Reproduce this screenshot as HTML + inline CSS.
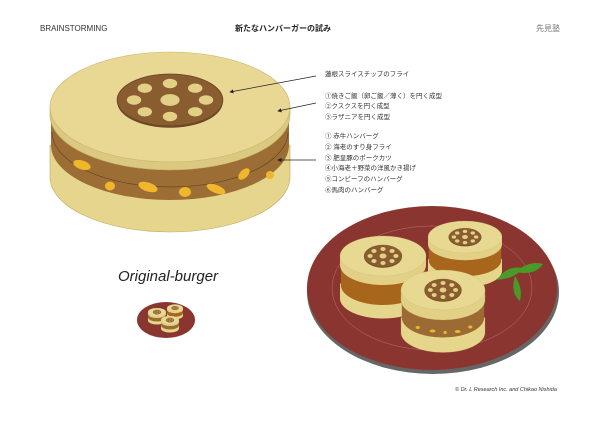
<!DOCTYPE html>
<html><head><meta charset="utf-8"><style>
body{margin:0;background:#fff;}
svg{display:block}
text{font-family:"Liberation Sans","Noto Sans CJK JP",sans-serif;}
</style></head><body>
<svg width="600" height="424" viewBox="0 0 600 424" xmlns="http://www.w3.org/2000/svg">
<defs>
<marker id="ar" markerWidth="6" markerHeight="6" refX="5" refY="3" orient="auto"><path d="M0,0 L6,3 L0,6 Z" fill="#222"/></marker>
<g id="lotus">
 <ellipse cx="0" cy="1.5" rx="44" ry="22" fill="#6d4a25"/>
 <ellipse cx="0" cy="0" rx="44" ry="22" fill="#8a5d30" stroke="#6a4826" stroke-width="0.8"/>
 <ellipse cx="0" cy="0" rx="8" ry="5" fill="#e3cf85"/>
 <ellipse cx="-30" cy="0" rx="6" ry="4" fill="#e3cf85"/>
 <ellipse cx="30" cy="0" rx="6" ry="4" fill="#e3cf85"/>
 <ellipse cx="0" cy="-14" rx="6" ry="4" fill="#e3cf85"/>
 <ellipse cx="0" cy="14" rx="6" ry="4" fill="#e3cf85"/>
 <ellipse cx="-21" cy="-10" rx="6" ry="4" fill="#e3cf85"/>
 <ellipse cx="21" cy="-10" rx="6" ry="4" fill="#e3cf85"/>
 <ellipse cx="-21" cy="10" rx="6" ry="4" fill="#e3cf85"/>
 <ellipse cx="21" cy="10" rx="6" ry="4" fill="#e3cf85"/>
</g>
<g id="burger">
 <path d="M-100,55 V85 A100 40 0 0 0 100 85 V55 Z" fill="#e6d68c" stroke="#bfa960" stroke-width="0.6"/>
 <path d="M-98,20 V55 A98 40 0 0 0 98 55 V20 Z" fill="#9b6b33"/>
 <path d="M-100,0 V20 A100 40 0 0 0 100 20 V0 Z" fill="#e2d086" stroke="#bfa960" stroke-width="0.6"/>
 <ellipse cx="0" cy="0" rx="100" ry="40" fill="#e8d992" stroke="#c9b36a" stroke-width="0.6"/>
 <use href="#lotus"/>
</g>
<g id="burger2">
 <path d="M-100,55 V85 A100 40 0 0 0 100 85 V55 Z" fill="#e6d68c"/>
 <path d="M-98,18 V58 A98 40 0 0 0 98 58 V18 Z" fill="#a8661d"/>
 <path d="M-100,0 V18 A100 40 0 0 0 100 18 V0 Z" fill="#e2d086"/>
 <ellipse cx="0" cy="0" rx="100" ry="40" fill="#e8d992" stroke="#c9b36a" stroke-width="0.6"/>
 <use href="#lotus"/>
</g>
</defs>

<text x="40" y="31" font-size="8" fill="#333">BRAINSTORMING</text>
<text x="235" y="31" font-size="8" font-weight="bold" fill="#222" font-family="'Liberation Serif','Noto Serif CJK SC',serif">新たなハンバーガーの試み</text>
<text x="536" y="31" font-size="8" fill="#777" font-family="'Liberation Serif','Noto Serif CJK SC',serif">先見塾</text>

<!-- big burger -->
<path d="M50,145 V177 A120 55 0 0 0 290 177 V145 Z" fill="#e6d58c" stroke="#c2ab62" stroke-width="0.6"/>
<path d="M51,115 V145 A119 55 0 0 0 289 145 V115 Z" fill="#9c6d35"/>
<path d="M52,132 A118 55 0 0 0 288 132" fill="none" stroke="#5e3f1e" stroke-width="0.6"/>
<g fill="#f0b72c">
 <ellipse cx="82" cy="165" rx="9" ry="4.5" transform="rotate(18 82 165)"/>
 <ellipse cx="110" cy="186" rx="5" ry="4.5"/>
 <ellipse cx="148" cy="187" rx="10" ry="4.5" transform="rotate(18 148 187)"/>
 <ellipse cx="185" cy="192" rx="6" ry="5"/>
 <ellipse cx="216" cy="189" rx="10" ry="4" transform="rotate(22 216 189)"/>
 <ellipse cx="244" cy="174" rx="7" ry="4" transform="rotate(-45 244 174)"/>
 <ellipse cx="270" cy="175" rx="4" ry="4"/>
</g>
<path d="M50,107 V115 A120 55 0 0 0 290 115 V107 Z" fill="#dcc981" stroke="#c2ab62" stroke-width="0.6"/>
<ellipse cx="170" cy="107" rx="120" ry="55" fill="#e8d894" stroke="#c9b36a" stroke-width="0.6"/>
<g transform="translate(170,100) scale(1.2,1.18)"><use href="#lotus"/></g>

<!-- arrows -->
<g stroke="#222" stroke-width="0.7" fill="none">
 <line x1="316" y1="76" x2="230" y2="92" marker-end="url(#ar)"/>
 <line x1="316" y1="103" x2="278" y2="111" marker-end="url(#ar)"/>
 <line x1="316" y1="160" x2="278" y2="160" marker-end="url(#ar)"/>
</g>
<g font-size="6.5" fill="#333">
 <text x="325" y="76">蓮根スライスチップのフライ</text>
 <text x="325" y="98">①焼きご飯（卵ご飯／薄く）を円く成型</text>
 <text x="325" y="108">②クスクスを円く成型</text>
 <text x="325" y="119">③ラザニアを円く成型</text>
 <text x="325" y="138">① 赤牛ハンバーグ</text>
 <text x="325" y="149">② 海老のすり身フライ</text>
 <text x="325" y="160">③ 肥皇豚のポークカツ</text>
 <text x="325" y="170">④小海老＋野菜の洋風かき揚げ</text>
 <text x="325" y="181">⑤コンビーフのハンバーグ</text>
 <text x="325" y="192">⑥馬肉のハンバーグ</text>
</g>

<!-- plate -->
<ellipse cx="433" cy="292" rx="126" ry="82" fill="#666"/>
<ellipse cx="432" cy="288" rx="125" ry="82" fill="#8a3530"/>
<ellipse cx="432" cy="288" rx="100" ry="62" fill="none" stroke="#b8736a" stroke-width="0.5"/>
<g transform="translate(465,237) scale(0.37,0.4)"><use href="#burger2"/></g>
<g transform="translate(383,256) scale(0.43,0.5)"><use href="#burger2"/></g>
<g transform="translate(443,290) scale(0.42,0.5)">
 <use href="#burger"/>
 <ellipse cx="-60" cy="75" rx="5" ry="3" fill="#f0b72c"/>
 <ellipse cx="-25" cy="82" rx="7" ry="3" fill="#f0b72c"/>
 <ellipse cx="5" cy="85" rx="4" ry="3" fill="#f0b72c"/>
 <ellipse cx="35" cy="83" rx="7" ry="3" fill="#f0b72c"/>
 <ellipse cx="65" cy="74" rx="5" ry="3" fill="#f0b72c"/>
</g>
<g fill="#4a9a2a">
 <path d="M497,280 q10,-15 25,-12 q-5,10 -25,12z"/>
 <path d="M515,272 q15,-12 28,-8 q-8,12 -28,8z"/>
 <path d="M515,276 q8,12 5,25 q-10,-8 -5,-25z"/>
</g>
<text x="455" y="391" font-size="5.5" fill="#333" font-family="'Liberation Serif',serif" font-style="italic">© Dr. L Research Inc. and Chikao Nishida</text>

<!-- logo -->
<text x="118" y="281" font-size="15" fill="#222" font-family="'Liberation Serif',serif" font-style="italic">Original-burger</text>
<ellipse cx="166" cy="320" rx="29" ry="18" fill="#8a3530"/>
<g transform="translate(157,312) scale(0.09,0.1)"><use href="#burger"/></g>
<g transform="translate(175,308) scale(0.08,0.09)"><use href="#burger2"/></g>
<g transform="translate(170,320) scale(0.09,0.1)"><use href="#burger"/></g>
</svg>
</body></html>
